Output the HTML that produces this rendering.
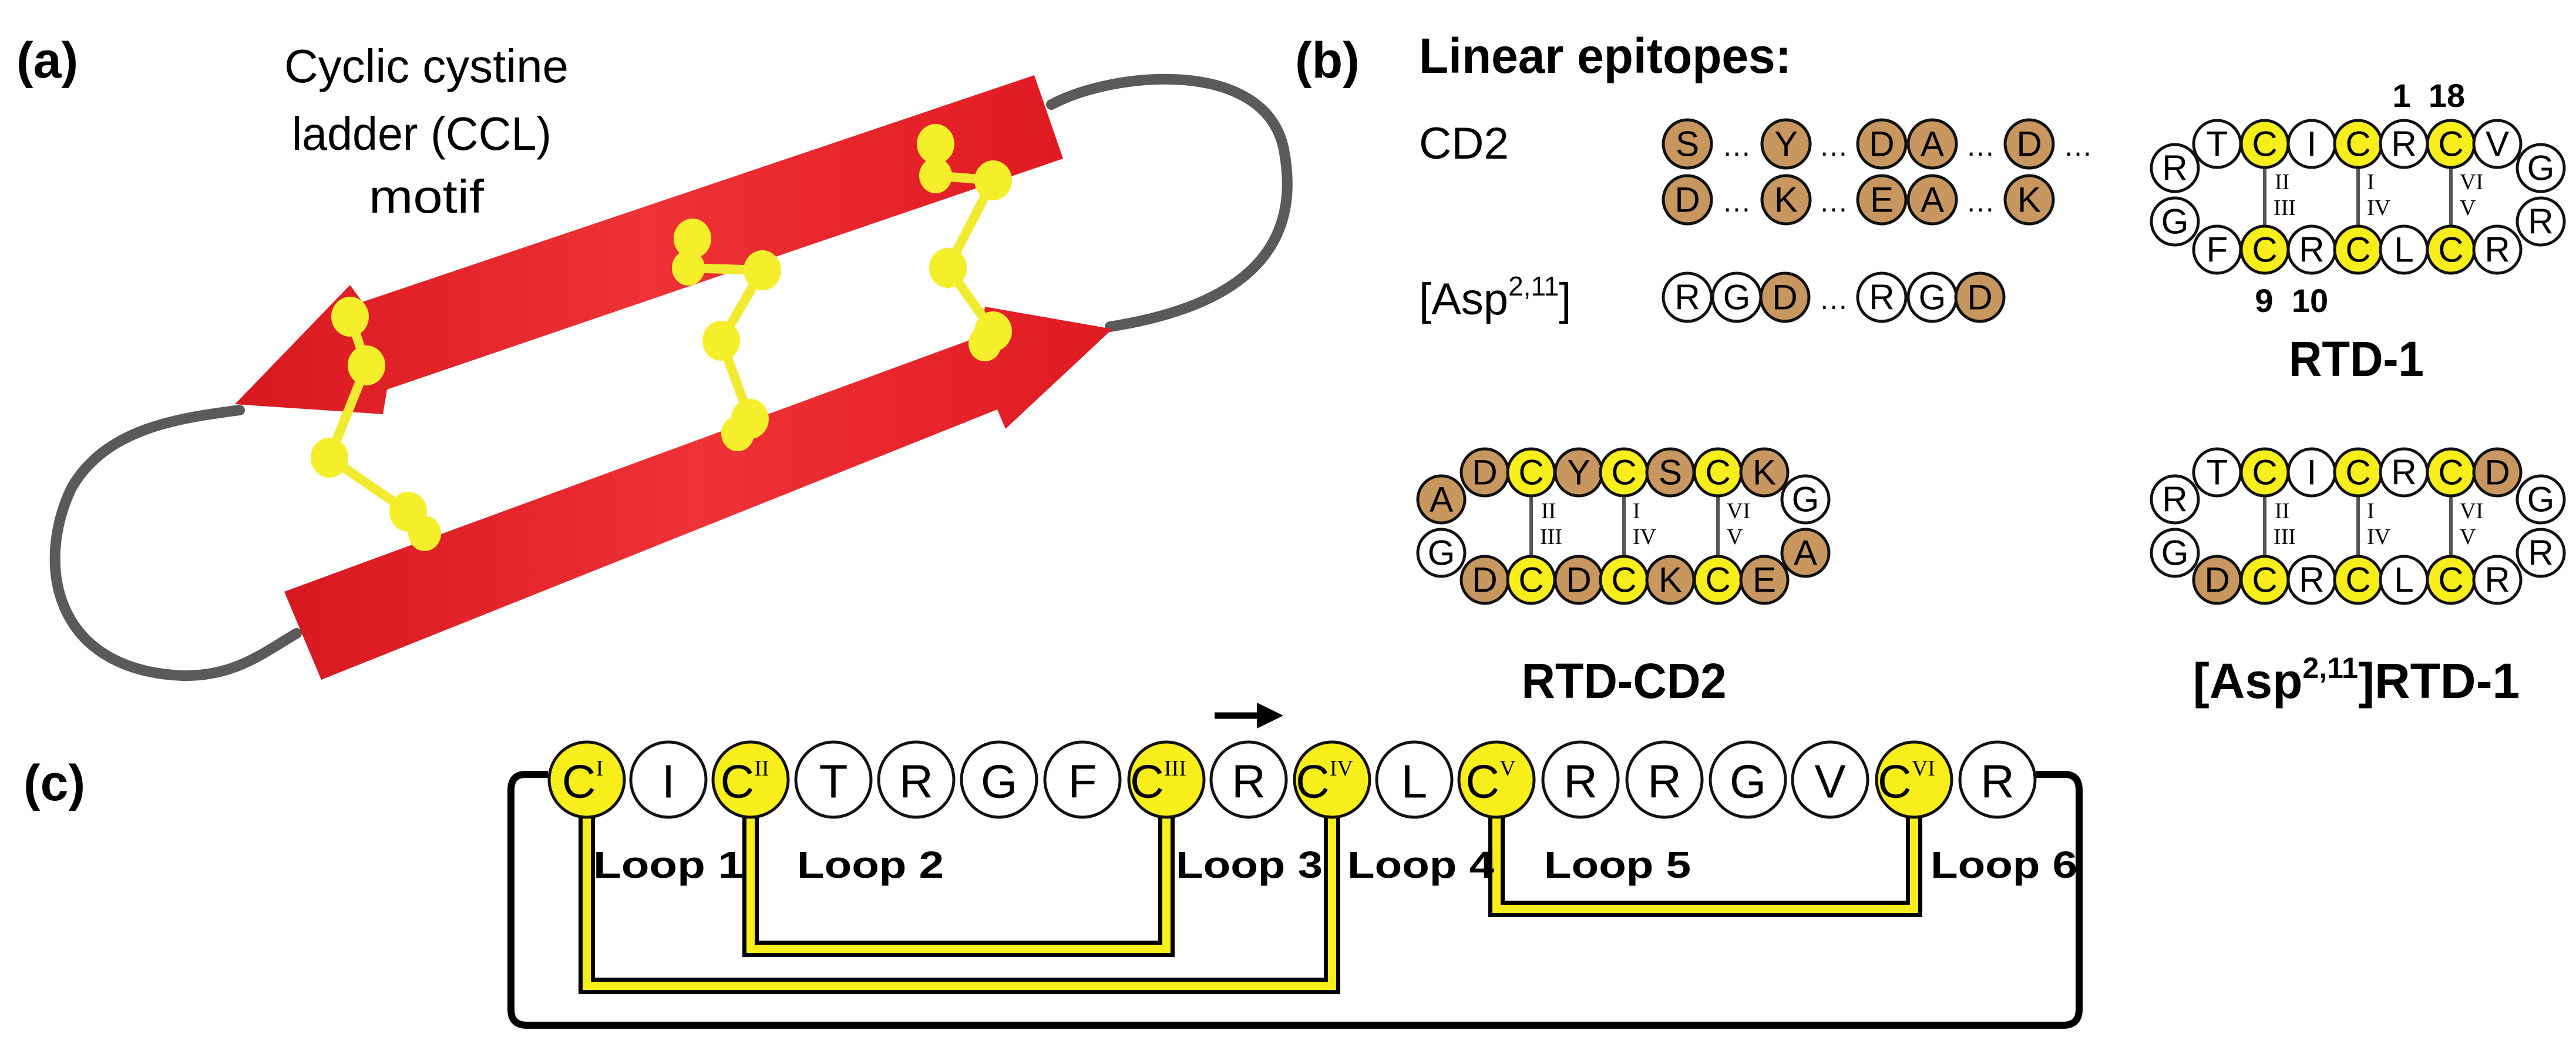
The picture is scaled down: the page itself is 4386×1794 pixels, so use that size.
<!DOCTYPE html>
<html><head><meta charset="utf-8"><style>
html,body{margin:0;padding:0;background:#fff}
svg{display:block}
text{font-family:"Liberation Sans",sans-serif}
.b{font-weight:bold}
.cl{font-size:60px;text-anchor:middle;dominant-baseline:central}
.cc{font-size:80px;text-anchor:middle;dominant-baseline:central}
.rn{font-family:"Liberation Serif",serif;font-size:38px}
.t{fill:#c8965f;stroke:#111;stroke-width:5}
.w{fill:#fff;stroke:#111;stroke-width:5}
.y{fill:#f8ee1c;stroke:#111;stroke-width:5}
.dt{font-size:50px;text-anchor:middle}
</style></head><body>
<svg width="4386" height="1794" viewBox="0 0 4386 1794" xmlns="http://www.w3.org/2000/svg">
<defs>
<linearGradient id="rg" x1="0" y1="0" x2="1" y2="0">
<stop offset="0" stop-color="#d81820"/><stop offset="0.5" stop-color="#ee3236"/><stop offset="1" stop-color="#e01a22"/>
</linearGradient>
</defs>
<!-- panel a -->
<text x="28" y="132" class="b" font-size="86">(a)</text>
<text x="726" y="140" font-size="80" text-anchor="middle" textLength="484" lengthAdjust="spacingAndGlyphs">Cyclic cystine</text>
<text x="718" y="255" font-size="80" text-anchor="middle" textLength="442" lengthAdjust="spacingAndGlyphs">ladder (CCL)</text>
<text x="726" y="362" font-size="80" text-anchor="middle" textLength="196" lengthAdjust="spacingAndGlyphs">motif</text>
<path d="M1790,178 C1900,120 2150,100 2185,250 C2220,420 2120,520 1890,556" fill="none" stroke="#5a5a5a" stroke-width="18" stroke-linecap="round"/>
<path d="M408,698 C300,712 180,730 122,830 C60,960 90,1140 310,1150 C400,1152 450,1110 505,1078" fill="none" stroke="#5a5a5a" stroke-width="18" stroke-linecap="round"/>
<polygon points="400,688 596,485 617,514 1761,128 1810,270 659,663 652,705" fill="url(#rg)"/>
<polygon points="484,1007 1670,572 1677,522 1894,560 1712,730 1698,697 547,1157" fill="url(#rg)"/>
<g stroke="#f2ea30" stroke-width="16" fill="none">
<polyline points="596,539 624,622 561,779 695,871 723,908"/>
<polyline points="1179,406 1172,456 1298,460 1228,580 1277,713 1256,738"/>
<polyline points="1593,245 1593,299 1691,307 1614,456 1691,564 1677,585"/>
</g>
<g fill="#f5ee2a">
<ellipse cx="596" cy="539" rx="32" ry="34"/><ellipse cx="624" cy="622" rx="32" ry="34"/><ellipse cx="561" cy="779" rx="32" ry="34"/><ellipse cx="695" cy="871" rx="32" ry="34"/><ellipse cx="723" cy="908" rx="28" ry="30"/>
<ellipse cx="1179" cy="406" rx="32" ry="34"/><ellipse cx="1172" cy="456" rx="28" ry="30"/><ellipse cx="1298" cy="460" rx="32" ry="34"/><ellipse cx="1228" cy="580" rx="32" ry="34"/><ellipse cx="1277" cy="713" rx="32" ry="34"/><ellipse cx="1256" cy="738" rx="28" ry="30"/>
<ellipse cx="1593" cy="245" rx="32" ry="34"/><ellipse cx="1593" cy="299" rx="28" ry="30"/><ellipse cx="1691" cy="307" rx="32" ry="34"/><ellipse cx="1614" cy="456" rx="32" ry="34"/><ellipse cx="1691" cy="564" rx="32" ry="34"/><ellipse cx="1677" cy="585" rx="28" ry="30"/>
</g>

<!-- panel b -->
<text x="2205" y="132" class="b" font-size="86">(b)</text>
<text x="2416" y="124" class="b" font-size="84" textLength="634" lengthAdjust="spacingAndGlyphs">Linear epitopes:</text>
<text x="2416" y="270" font-size="76" textLength="153" lengthAdjust="spacingAndGlyphs">CD2</text>
<text x="2416" y="535" font-size="76">[Asp<tspan font-size="46" dy="-32">2,11</tspan><tspan dy="32">]</tspan></text>

<g>
<circle cx="2873" cy="245" r="41" class="t"/><circle cx="3041" cy="245" r="41" class="t"/><circle cx="3204" cy="245" r="41" class="t"/><circle cx="3290" cy="245" r="41" class="t"/><circle cx="3455" cy="245" r="41" class="t"/>
<circle cx="2873" cy="340" r="41" class="t"/><circle cx="3041" cy="340" r="41" class="t"/><circle cx="3204" cy="340" r="41" class="t"/><circle cx="3290" cy="340" r="41" class="t"/><circle cx="3455" cy="340" r="41" class="t"/>
<circle cx="2873" cy="506" r="41" class="w"/><circle cx="2957" cy="506" r="41" class="w"/><circle cx="3039" cy="506" r="41" class="t"/><circle cx="3204" cy="506" r="41" class="w"/><circle cx="3290" cy="506" r="41" class="w"/><circle cx="3371" cy="506" r="41" class="t"/>
<text class="cl" x="2873" y="245">S</text><text class="cl" x="3041" y="245">Y</text><text class="cl" x="3204" y="245">D</text><text class="cl" x="3290" y="245">A</text><text class="cl" x="3455" y="245">D</text>
<text class="cl" x="2873" y="340">D</text><text class="cl" x="3041" y="340">K</text><text class="cl" x="3204" y="340">E</text><text class="cl" x="3290" y="340">A</text><text class="cl" x="3455" y="340">K</text>
<text class="cl" x="2873" y="506">R</text><text class="cl" x="2957" y="506">G</text><text class="cl" x="3039" y="506">D</text><text class="cl" x="3204" y="506">R</text><text class="cl" x="3290" y="506">G</text><text class="cl" x="3371" y="506">D</text>
<text class="dt" x="2957" y="265">…</text><text class="dt" x="3122" y="265">…</text><text class="dt" x="3372" y="265">…</text><text class="dt" x="3538" y="265">…</text>
<text class="dt" x="2957" y="360">…</text><text class="dt" x="3122" y="360">…</text><text class="dt" x="3372" y="360">…</text>
<text class="dt" x="3122" y="526">…</text>
</g>

<!-- RTD-1 -->
<g>
<g stroke="#555" stroke-width="6"><line x1="3856" y1="280" x2="3856" y2="392"/><line x1="4015" y1="280" x2="4015" y2="392"/><line x1="4173" y1="280" x2="4173" y2="392"/></g>
<text class="rn" x="3873" y="322">II</text><text class="rn" x="3871" y="366">III</text>
<text class="rn" x="4030" y="322">I</text><text class="rn" x="4030" y="366">IV</text>
<text class="rn" x="4188" y="322">VI</text><text class="rn" x="4188" y="366">V</text>
<circle cx="3703" cy="286" r="40" class="w"/><circle cx="3703" cy="377" r="40" class="w"/><circle cx="4326" cy="286" r="40" class="w"/><circle cx="4326" cy="377" r="40" class="w"/>
<circle cx="3775" cy="245" r="40" class="w"/><circle cx="3856" cy="245" r="40" class="y"/><circle cx="3936" cy="245" r="40" class="w"/><circle cx="4015" cy="245" r="40" class="y"/><circle cx="4093" cy="245" r="40" class="w"/><circle cx="4173" cy="245" r="40" class="y"/><circle cx="4252" cy="245" r="40" class="w"/>
<circle cx="3775" cy="425" r="40" class="w"/><circle cx="3856" cy="425" r="40" class="y"/><circle cx="3936" cy="425" r="40" class="w"/><circle cx="4015" cy="425" r="40" class="y"/><circle cx="4093" cy="425" r="40" class="w"/><circle cx="4173" cy="425" r="40" class="y"/><circle cx="4252" cy="425" r="40" class="w"/>
<text class="cl" x="3703" y="286">R</text><text class="cl" x="3703" y="377">G</text><text class="cl" x="4326" y="286">G</text><text class="cl" x="4326" y="377">R</text>
<text class="cl" x="3775" y="245">T</text><text class="cl" x="3856" y="245">C</text><text class="cl" x="3936" y="245">I</text><text class="cl" x="4015" y="245">C</text><text class="cl" x="4093" y="245">R</text><text class="cl" x="4173" y="245">C</text><text class="cl" x="4252" y="245">V</text>
<text class="cl" x="3775" y="425">F</text><text class="cl" x="3856" y="425">C</text><text class="cl" x="3936" y="425">R</text><text class="cl" x="4015" y="425">C</text><text class="cl" x="4093" y="425">L</text><text class="cl" x="4173" y="425">C</text><text class="cl" x="4252" y="425">R</text>
<text x="4089" y="182" class="b" font-size="56" text-anchor="middle">1</text><text x="4166" y="182" class="b" font-size="56" text-anchor="middle">18</text>
<text x="3855" y="531" class="b" font-size="56" text-anchor="middle">9</text><text x="3933" y="531" class="b" font-size="56" text-anchor="middle">10</text>
<text x="4012" y="640" class="b" font-size="84" text-anchor="middle" textLength="230" lengthAdjust="spacingAndGlyphs">RTD-1</text>
</g>

<!-- RTD-CD2 -->
<g>
<g stroke="#555" stroke-width="6"><line x1="2607" y1="840" x2="2607" y2="952"/><line x1="2765" y1="840" x2="2765" y2="952"/><line x1="2925" y1="840" x2="2925" y2="952"/></g>
<text class="rn" x="2624" y="882">II</text><text class="rn" x="2622" y="926">III</text>
<text class="rn" x="2780" y="882">I</text><text class="rn" x="2780" y="926">IV</text>
<text class="rn" x="2940" y="882">VI</text><text class="rn" x="2940" y="926">V</text>
<circle cx="2454" cy="850" r="40" class="t"/><circle cx="2454" cy="941" r="40" class="w"/><circle cx="3074" cy="850" r="40" class="w"/><circle cx="3074" cy="941" r="40" class="t"/>
<circle cx="2528" cy="804" r="40" class="t"/><circle cx="2607" cy="804" r="40" class="y"/><circle cx="2688" cy="804" r="40" class="t"/><circle cx="2765" cy="804" r="40" class="y"/><circle cx="2844" cy="804" r="40" class="t"/><circle cx="2925" cy="804" r="40" class="y"/><circle cx="3004" cy="804" r="40" class="t"/>
<circle cx="2528" cy="987" r="40" class="t"/><circle cx="2607" cy="987" r="40" class="y"/><circle cx="2688" cy="987" r="40" class="t"/><circle cx="2765" cy="987" r="40" class="y"/><circle cx="2844" cy="987" r="40" class="t"/><circle cx="2925" cy="987" r="40" class="y"/><circle cx="3004" cy="987" r="40" class="t"/>
<text class="cl" x="2454" y="850">A</text><text class="cl" x="2454" y="941">G</text><text class="cl" x="3074" y="850">G</text><text class="cl" x="3074" y="941">A</text>
<text class="cl" x="2528" y="804">D</text><text class="cl" x="2607" y="804">C</text><text class="cl" x="2688" y="804">Y</text><text class="cl" x="2765" y="804">C</text><text class="cl" x="2844" y="804">S</text><text class="cl" x="2925" y="804">C</text><text class="cl" x="3004" y="804">K</text>
<text class="cl" x="2528" y="987">D</text><text class="cl" x="2607" y="987">C</text><text class="cl" x="2688" y="987">D</text><text class="cl" x="2765" y="987">C</text><text class="cl" x="2844" y="987">K</text><text class="cl" x="2925" y="987">C</text><text class="cl" x="3004" y="987">E</text>
<text x="2765" y="1188" class="b" font-size="84" text-anchor="middle" textLength="349" lengthAdjust="spacingAndGlyphs">RTD-CD2</text>
</g>

<!-- Asp RTD-1 -->
<g>
<g stroke="#555" stroke-width="6"><line x1="3856" y1="840" x2="3856" y2="952"/><line x1="4015" y1="840" x2="4015" y2="952"/><line x1="4173" y1="840" x2="4173" y2="952"/></g>
<text class="rn" x="3873" y="882">II</text><text class="rn" x="3871" y="926">III</text>
<text class="rn" x="4030" y="882">I</text><text class="rn" x="4030" y="926">IV</text>
<text class="rn" x="4188" y="882">VI</text><text class="rn" x="4188" y="926">V</text>
<circle cx="3703" cy="850" r="40" class="w"/><circle cx="3703" cy="941" r="40" class="w"/><circle cx="4326" cy="850" r="40" class="w"/><circle cx="4326" cy="941" r="40" class="w"/>
<circle cx="3775" cy="804" r="40" class="w"/><circle cx="3856" cy="804" r="40" class="y"/><circle cx="3936" cy="804" r="40" class="w"/><circle cx="4015" cy="804" r="40" class="y"/><circle cx="4093" cy="804" r="40" class="w"/><circle cx="4173" cy="804" r="40" class="y"/><circle cx="4252" cy="804" r="40" class="t"/>
<circle cx="3775" cy="987" r="40" class="t"/><circle cx="3856" cy="987" r="40" class="y"/><circle cx="3936" cy="987" r="40" class="w"/><circle cx="4015" cy="987" r="40" class="y"/><circle cx="4093" cy="987" r="40" class="w"/><circle cx="4173" cy="987" r="40" class="y"/><circle cx="4252" cy="987" r="40" class="w"/>
<text class="cl" x="3703" y="850">R</text><text class="cl" x="3703" y="941">G</text><text class="cl" x="4326" y="850">G</text><text class="cl" x="4326" y="941">R</text>
<text class="cl" x="3775" y="804">T</text><text class="cl" x="3856" y="804">C</text><text class="cl" x="3936" y="804">I</text><text class="cl" x="4015" y="804">C</text><text class="cl" x="4093" y="804">R</text><text class="cl" x="4173" y="804">C</text><text class="cl" x="4252" y="804">D</text>
<text class="cl" x="3775" y="987">D</text><text class="cl" x="3856" y="987">C</text><text class="cl" x="3936" y="987">R</text><text class="cl" x="4015" y="987">C</text><text class="cl" x="4093" y="987">L</text><text class="cl" x="4173" y="987">C</text><text class="cl" x="4252" y="987">R</text>
<text x="4012" y="1188" class="b" font-size="84" text-anchor="middle">[Asp<tspan font-size="50" dy="-34">2,11</tspan><tspan dy="34">]RTD-1</tspan></text>
</g>

<!-- panel c -->
<text x="40" y="1362" class="b" font-size="86">(c)</text>
<path d="M933,1318 H895 Q870,1318 870,1345 V1718 Q870,1745 897,1745 H3513 Q3540,1745 3540,1718 V1345 Q3540,1318 3515,1318 H3467" fill="none" stroke="#000" stroke-width="12"/>
<g fill="none">
<path d="M999,1390 V1678 H2268 V1390" stroke="#000" stroke-width="28"/>
<path d="M999,1390 V1678 H2268 V1390" stroke="#f8ee1c" stroke-width="14"/>
<path d="M1278,1390 V1615 H1986 V1390" stroke="#000" stroke-width="28"/>
<path d="M1278,1390 V1615 H1986 V1390" stroke="#f8ee1c" stroke-width="14"/>
<path d="M2548,1390 V1547 H3259 V1390" stroke="#000" stroke-width="28"/>
<path d="M2548,1390 V1547 H3259 V1390" stroke="#f8ee1c" stroke-width="14"/>
</g>
<line x1="2068" y1="1218" x2="2150" y2="1218" stroke="#000" stroke-width="11"/>
<polygon points="2140,1196 2185,1218 2140,1240" fill="#000"/>
<g>
<circle cx="999" cy="1327" r="64" class="y"/><circle cx="1138" cy="1327" r="64" class="w"/><circle cx="1278" cy="1327" r="64" class="y"/><circle cx="1419" cy="1327" r="64" class="w"/><circle cx="1560" cy="1327" r="64" class="w"/><circle cx="1701" cy="1327" r="64" class="w"/><circle cx="1843" cy="1327" r="64" class="w"/><circle cx="1986" cy="1327" r="64" class="y"/><circle cx="2126" cy="1327" r="64" class="w"/><circle cx="2268" cy="1327" r="64" class="y"/><circle cx="2408" cy="1327" r="64" class="w"/><circle cx="2548" cy="1327" r="64" class="y"/><circle cx="2691" cy="1327" r="64" class="w"/><circle cx="2834" cy="1327" r="64" class="w"/><circle cx="2976" cy="1327" r="64" class="w"/><circle cx="3116" cy="1327" r="64" class="w"/><circle cx="3259" cy="1327" r="64" class="y"/><circle cx="3401" cy="1327" r="64" class="w"/>
<text class="cc" x="992" y="1330">C<tspan class="rn" font-size="34" dy="-22">I</tspan></text>
<text class="cc" x="1138" y="1330">I</text>
<text class="cc" x="1268" y="1330">C<tspan class="rn" font-size="34" dy="-22">II</tspan></text>
<text class="cc" x="1419" y="1330">T</text><text class="cc" x="1560" y="1330">R</text><text class="cc" x="1701" y="1330">G</text><text class="cc" x="1843" y="1330">F</text>
<text class="cc" x="1972" y="1330">C<tspan class="rn" font-size="34" dy="-22">III</tspan></text>
<text class="cc" x="2126" y="1330">R</text>
<text class="cc" x="2255" y="1330">C<tspan class="rn" font-size="34" dy="-22">IV</tspan></text>
<text class="cc" x="2408" y="1330">L</text>
<text class="cc" x="2538" y="1330">C<tspan class="rn" font-size="34" dy="-22">V</tspan></text>
<text class="cc" x="2691" y="1330">R</text><text class="cc" x="2834" y="1330">R</text><text class="cc" x="2976" y="1330">G</text><text class="cc" x="3116" y="1330">V</text>
<text class="cc" x="3246" y="1330">C<tspan class="rn" font-size="34" dy="-22">VI</tspan></text>
<text class="cc" x="3401" y="1330">R</text>
</g>
<g class="b" font-size="64">
<text x="1010" y="1494" class="b" textLength="256" lengthAdjust="spacingAndGlyphs">Loop 1</text>
<text x="1357" y="1494" class="b" textLength="250" lengthAdjust="spacingAndGlyphs">Loop 2</text>
<text x="2002" y="1494" class="b" textLength="250" lengthAdjust="spacingAndGlyphs">Loop 3</text>
<text x="2294" y="1494" class="b" textLength="250" lengthAdjust="spacingAndGlyphs">Loop 4</text>
<text x="2629" y="1494" class="b" textLength="250" lengthAdjust="spacingAndGlyphs">Loop 5</text>
<text x="3287" y="1494" class="b" textLength="250" lengthAdjust="spacingAndGlyphs">Loop 6</text>
</g>
</svg>
</body></html>
